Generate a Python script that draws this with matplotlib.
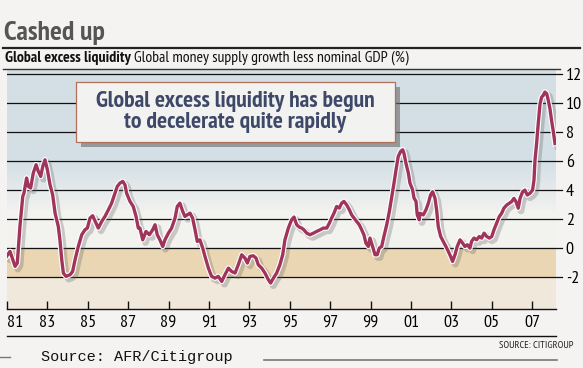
import matplotlib
matplotlib.use("Agg")
import matplotlib.pyplot as plt
import matplotlib.patheffects as pe
from matplotlib import font_manager as fm
from matplotlib.patches import Rectangle
import numpy as np

# values (year, % growth gap)
years = [
    1980.98, 1981.15, 1981.40, 1981.51, 1981.64, 1981.78, 1981.84, 1981.97, 1982.06, 1982.17,
    1982.30, 1982.44, 1982.55, 1982.67, 1982.77, 1982.88, 1983.00, 1983.13, 1983.26, 1983.38,
    1983.54, 1983.62, 1983.71, 1983.79, 1983.92, 1984.12, 1984.25, 1984.37, 1984.53, 1984.70,
    1984.86, 1984.98, 1985.11, 1985.24, 1985.41, 1985.52, 1985.69, 1985.85, 1986.02, 1986.18,
    1986.35, 1986.46, 1986.59, 1986.73, 1986.84, 1986.92, 1987.09, 1987.25, 1987.39, 1987.50,
    1987.58, 1987.72, 1987.88, 1988.05, 1988.21, 1988.33, 1988.44, 1988.57, 1988.71, 1988.82,
    1988.99, 1989.15, 1989.32, 1989.43, 1989.56, 1989.70, 1989.81, 1989.93, 1990.06, 1990.19,
    1990.31, 1990.42, 1990.55, 1990.69, 1990.80, 1990.97, 1991.13, 1991.30, 1991.46, 1991.63,
    1991.79, 1991.96, 1992.12, 1992.29, 1992.45, 1992.62, 1992.78, 1992.90, 1993.03, 1993.19,
    1993.33, 1993.44, 1993.61, 1993.77, 1993.94, 1994.05, 1994.19, 1994.35, 1994.51, 1994.65,
    1994.76, 1994.93, 1995.09, 1995.21, 1995.34, 1995.47, 1995.59, 1995.70, 1995.84, 1996.00,
    1996.17, 1996.33, 1996.50, 1996.66, 1996.83, 1996.96, 1997.07, 1997.19, 1997.32, 1997.45,
    1997.57, 1997.68, 1997.81, 1997.95, 1998.06, 1998.18, 1998.31, 1998.44, 1998.56, 1998.67,
    1998.77, 1998.89, 1998.97, 1999.10, 1999.22, 1999.33, 1999.43, 1999.55, 1999.66, 1999.80,
    1999.93, 2000.04, 2000.16, 2000.26, 2000.37, 2000.49, 2000.59, 2000.65, 2000.75, 2000.87,
    2000.95, 2001.08, 2001.15, 2001.25, 2001.31, 2001.41, 2001.45, 2001.61, 2001.74, 2001.86,
    2001.97, 2002.07, 2002.19, 2002.27, 2002.35, 2002.47, 2002.60, 2002.73, 2002.85, 2002.96,
    2003.06, 2003.18, 2003.29, 2003.43, 2003.56, 2003.67, 2003.79, 2003.92, 2004.00, 2004.12,
    2004.25, 2004.38, 2004.50, 2004.62, 2004.75, 2004.88, 2005.00, 2005.11, 2005.24, 2005.37,
    2005.49, 2005.60, 2005.74, 2005.87, 2005.98, 2006.10, 2006.20, 2006.31, 2006.40, 2006.53,
    2006.64, 2006.76, 2006.89, 2007.02, 2007.09, 2007.14, 2007.22, 2007.30, 2007.39, 2007.47,
    2007.55, 2007.63, 2007.72, 2007.80, 2007.88, 2007.96, 2008.05, 2008.13,
]
liquidity = [
    -0.57, -0.23, -1.26, -1.03, 1.49, 3.56, 3.79, 4.83, 4.25, 4.14,
    5.17, 5.75, 5.29, 4.94, 5.63, 6.09, 5.40, 4.37, 3.68, 2.41,
    1.49, 0.57, -0.80, -1.72, -1.95, -1.84, -1.61, -0.80, 0.11, 0.92,
    1.26, 1.38, 2.07, 2.23, 1.72, 1.38, 1.84, 2.18, 2.64, 3.10,
    3.79, 4.25, 4.48, 4.60, 4.37, 3.79, 3.22, 2.87, 2.18, 1.38,
    1.38, 0.57, 1.15, 0.92, 1.26, 1.61, 0.92, 0.57, 0.11, 0.57,
    1.03, 1.38, 2.07, 2.87, 3.10, 2.53, 2.18, 2.30, 2.41, 2.07,
    1.26, 0.46, 0.57, 0.00, -0.57, -1.38, -1.95, -2.07, -1.95, -2.30,
    -1.84, -1.38, -1.61, -1.72, -1.15, -0.46, -0.69, -1.03, -0.57, -0.53,
    -0.69, -1.15, -1.38, -1.72, -2.18, -2.41, -2.07, -1.72, -1.15, -0.46,
    0.57, 1.38, 1.95, 2.14, 1.61, 1.45, 1.38, 1.26, 1.03, 0.92,
    1.03, 1.15, 1.26, 1.38, 1.38, 1.72, 2.07, 2.41, 2.87, 2.76,
    3.10, 3.22, 2.99, 2.64, 2.30, 2.07, 1.84, 1.61, 1.26, 0.92,
    0.34, 0.11, 0.69, 0.11, -0.46, -0.46, 0.00, 0.11, 0.80, 1.61,
    2.53, 3.45, 4.48, 5.40, 6.32, 6.67, 6.78, 6.55, 5.86, 5.17,
    4.48, 4.02, 3.45, 3.22, 2.30, 1.95, 2.40, 2.29, 2.63, 3.09,
    3.66, 3.89, 3.43, 2.63, 1.49, 0.80, 0.46, 0.11, -0.23, -0.57,
    -0.92, -0.46, 0.11, 0.57, 0.34, 0.11, 0.23, 0.00, 0.46, 0.69,
    0.57, 0.80, 0.69, 1.03, 0.80, 0.69, 0.80, 1.26, 1.72, 2.17,
    2.40, 2.75, 2.97, 3.09, 3.20, 3.43, 3.20, 2.75, 3.43, 3.89,
    4.00, 3.66, 3.78, 4.00, 4.69, 6.06, 7.21, 8.58, 9.95, 10.41,
    10.53, 10.76, 10.64, 10.18, 9.61, 8.81, 8.01, 7.21,
]
y_ticks = [-2, 0, 2, 4, 6, 8, 10, 12]
x_ticks = [1981, 1983, 1985, 1987, 1989, 1991, 1993, 1995, 1997, 1999, 2001, 2003, 2005, 2007]
x_labels = ["81", "83", "85", "87", "89", "91", "93", "95", "97", "99", "01", "03", "05", "07"]


def _w(f):
    w = f.weight
    if isinstance(w, str):
        return {"bold": 700, "heavy": 800, "black": 900, "semibold": 600,
                "demibold": 600, "extra bold": 800}.get(w.lower(), 400)
    return int(w)


# a narrow / condensed sans that has a bold face, otherwise Roboto
def narrow_font():
    names = {}
    for f in fm.fontManager.ttflist:
        key = (f.name, str(f.stretch))
        names.setdefault(key, []).append(_w(f))
    good = []
    for (name, stretch), ws in names.items():
        narrow = "Narrow" in name or "Condensed" in name or "ondensed" in stretch
        if narrow and max(ws) >= 600 and min(ws) <= 500:
            st = "condensed" if "ondensed" in stretch else "normal"
            good.append((0 if "Narrow" in name else 1, name, st))
    if good:
        good.sort()
        return dict(family=good[0][1], stretch=good[0][2])
    return dict(family="Roboto", stretch="normal")


NF = narrow_font()

fig = plt.figure(figsize=(5.83, 3.68), dpi=100)
fig.patch.set_facecolor("#f4f3f1")

W, H = 583, 368
def fx(px):
    return px / W
def fy(py):
    return 1 - py / H

ax = fig.add_axes([fx(7), fy(309), fx(556) - fx(7), fy(70) - fy(309)])
x0, x1 = 1981.0, 2008.18
y0, y1 = -4.2, 12.28
ax.set_xlim(x0, x1)
ax.set_ylim(y0, y1)

# background bands
vv = np.linspace(y0, y1, 500)
blue = np.array([0.83, 0.875, 0.90])
pale = np.array([0.95, 0.95, 0.94])
tan = np.array([0.92, 0.84, 0.70])
beige = np.array([0.94, 0.91, 0.86])
rows = []
for v in vv:
    if v < -2:
        rows.append(beige)
    elif v < 0:
        rows.append(tan)
    else:
        t = np.clip((v - 2.5) / 3.5, 0, 1)
        rows.append(pale * (1 - t) + blue * t)
img = np.array(rows)[:, None, :]
ax.imshow(img, extent=[x0, x1, y0, y1], origin="lower", aspect="auto", zorder=0)

for yt in y_ticks:
    ax.axhline(yt, color="#111111", lw=0.9, zorder=1)
    ax.plot([x1, x1 + 0.3], [yt, yt], color="#111111", lw=0.9, clip_on=False)

line, = ax.plot(years, liquidity, color="#a0345a", lw=2.4, zorder=5,
                solid_joinstyle="round")
line.set_path_effects([
    pe.SimpleLineShadow(offset=(2, -2), shadow_color="#666666", alpha=0.3, linewidth=4.8),
    pe.Stroke(linewidth=4.0, foreground="white"),
    pe.Normal(),
])

for s in ["left", "right", "top"]:
    ax.spines[s].set_visible(False)
ax.spines["bottom"].set_color("#111111")
ax.spines["bottom"].set_linewidth(1.0)

ax.yaxis.tick_right()
ax.set_yticks(y_ticks)
ax.set_yticklabels([str(t) for t in y_ticks])
ax.tick_params(axis="y", length=0, pad=7)
for lab in ax.get_yticklabels():
    lab.set_horizontalalignment("left")
    lab.set_family(NF["family"])
    lab.set_stretch(NF["stretch"])
    lab.set_fontsize(13)

ax.set_xticks(x_ticks)
ax.set_xticklabels(x_labels)
ax.tick_params(axis="x", direction="in", length=6, width=1, color="#111111", pad=4)
for lab in ax.get_xticklabels():
    lab.set_family(NF["family"])
    lab.set_stretch(NF["stretch"])
    lab.set_fontsize(13)
ax.get_xticklabels()[0].set_horizontalalignment("left")

# annotation box with shadow
bx, by, bw, bh = fx(76), fy(142), fx(395) - fx(76), fy(82) - fy(142)
fig.patches.append(Rectangle((bx + fx(5), by - 5 / H), bw, bh, transform=fig.transFigure,
                             facecolor="#6a6a6a", alpha=0.6, zorder=3))
fig.patches.append(Rectangle((bx, by), bw, bh, transform=fig.transFigure,
                             facecolor="#f2f2f0", edgecolor="#b0705a", lw=0.9, zorder=4))
fig.text(fx(235), fy(112), "Global excess liquidity has begun\nto decelerate quite rapidly",
         ha="center", va="center", weight="bold", fontsize=17, color="#3e4868",
         linespacing=0.95, zorder=6, **NF)

# titles
fig.text(fx(4), fy(33), "Cashed up", weight="bold", fontsize=20,
         color="#555555", va="center", ha="left", **NF)
fig.add_artist(plt.Line2D([fx(3), fx(580)], [fy(48), fy(48)], color="#222222", lw=1.6))
t1 = fig.text(fx(5), fy(58), "Global excess liquidity", weight="bold",
              fontsize=11.3, color="#111111", va="center", ha="left", **NF)
fig.canvas.draw()
bb = t1.get_window_extent()
fig.text(bb.x1 / fig.bbox.width + fx(3), fy(58),
         "Global money supply growth less nominal GDP (%)",
         fontsize=11.3, color="#111111", va="center", ha="left", **NF)
fig.add_artist(plt.Line2D([fx(3), fx(560)], [fy(69), fy(69)], color="#333333", lw=1.0))

# footer
fig.add_artist(plt.Line2D([fx(7), fx(556)], [fy(335.5), fy(335.5)], color="#111111", lw=1.0))
fig.text(fx(573), fy(345), "SOURCE: CITIGROUP", fontsize=7.5,
         color="#222222", ha="right", va="center", **NF)
fig.text(fx(41), fy(357), "Source: AFR/Citigroup", family="Liberation Mono",
         fontsize=11, color="#111111", ha="left", va="center")
fig.add_artist(plt.Line2D([fx(264), fx(557)], [fy(360), fy(360)], color="#777777", lw=1.2))
fig.add_artist(plt.Line2D([fx(0), fx(10)], [fy(357), fy(357)], color="#777777", lw=1.0))

fig.savefig("out.png", dpi=100)
